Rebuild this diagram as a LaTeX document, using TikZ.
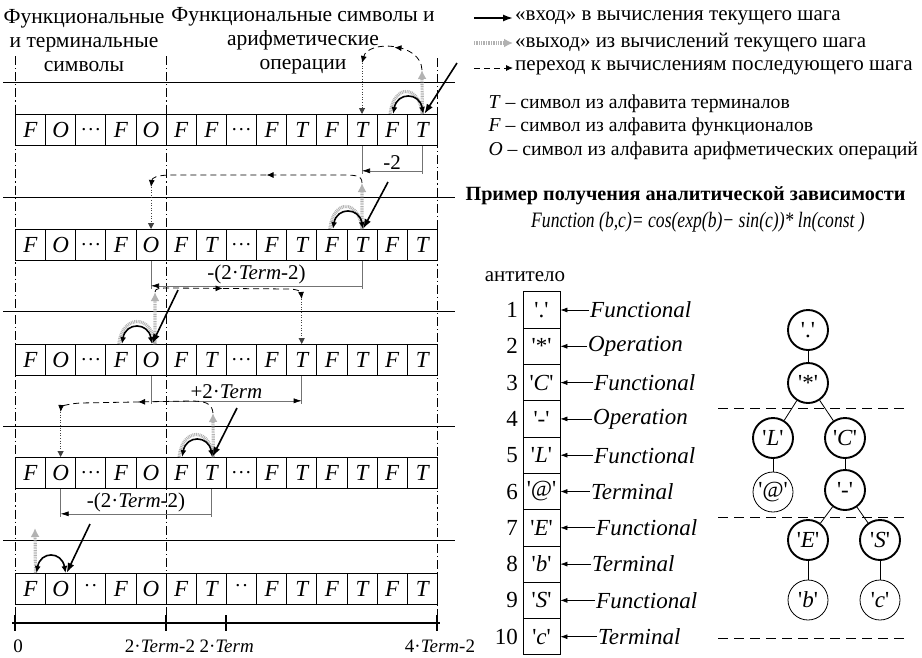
\documentclass[tikz,border=0pt]{standalone}
\usepackage{fontspec}
\usepackage{graphicx}
\setmainfont{Liberation Serif}
\usetikzlibrary{arrows.meta,decorations.markings,calc}
\newcommand\q{\textquotesingle}
\newcommand\tdots{{\upshape\fontsize{20}{20}\selectfont .\kern0.1em.\kern0.1em.}}
\newcommand\twodots{{\upshape\fontsize{20}{20}\selectfont\raisebox{7pt}{.\kern0.12em.}}}
\newcommand\cellrow[3]{\foreach \s [count=\i from 0] in {#3} {\node[cell] (r#1c\i) at ({15+30.14*\i},{-#2}) {\s};}}
\newcommand\dimjump[4]{%
  \draw[dimline] (r#1c#2.south) -- ++(0,-28);
  \draw[dimline] (r#1c#3.south) -- ++(0,-28);
  \draw[dimarr] ([yshift=-25pt]r#1c#2.south) -- ([yshift=-25pt]r#1c#3.south) node[midway, above=-2pt, text=black] {#4};}
\begin{document}
\begin{tikzpicture}[x=1pt,y=1pt, font=\fontsize{21}{22}\selectfont,
  cell/.style={draw, line width=0.8pt, minimum width=30.14pt, minimum height=31pt, anchor=north west, inner sep=0pt, font=\fontsize{23}{24}\selectfont\itshape},
  inarr/.style={line width=1.6pt, -{Latex[length=10pt,width=7pt]}},
  arcarr/.style={line width=1.6pt, {Latex[length=7pt,width=6pt]}-{Latex[length=7pt,width=6pt]}},
  exitline/.style={draw=black!30, line width=3.2pt, dash pattern=on 0.9pt off 0.8pt},
  exitarr/.style={exitline, -{Latex[length=9pt,width=9pt]}},
  transarr/.style={line width=0.8pt, dash pattern=on 6pt off 4pt, -{Latex[length=7pt,width=6pt]}},
  midarr/.style={postaction={decorate}, decoration={markings, mark=at position #1 with {\arrow{Latex[length=7pt,width=6pt]}}}},
  dotarr/.style={black!75, line width=1pt, dash pattern=on 1pt off 1.6pt, -{Triangle[length=6pt,width=6pt]}},
  dimline/.style={black!55, line width=0.6pt},
  dimarr/.style={dimline, -{Latex[length=8pt,width=5pt,color=black]}},
  colsep/.style={line width=0.9pt, dash pattern=on 9pt off 3pt on 1.2pt off 3pt},
  hline/.style={line width=0.6pt},
  abox/.style={draw, line width=0.8pt, minimum width=37pt, minimum height=36.3pt, inner sep=0pt, font=\fontsize{23}{24}\selectfont},
  tnode/.style={circle, draw, line width=1.9pt, minimum size=40pt, inner sep=0pt, font=\fontsize{23}{24}\selectfont},
  tleaf/.style={tnode, line width=0.8pt},
  tdash/.style={line width=0.7pt, dash pattern=on 10pt off 6pt},
  lbl/.style={anchor=west, inner sep=1pt, font=\fontsize{23}{24}\selectfont\itshape}]
\useasboundingbox (0,0) rectangle (922,-657);

% headings
\node[align=center, font=\fontsize{21.5}{24}\selectfont] (hl) at (84,-41) {Функциональные\\и терминальные\\символы};
\node[align=center, font=\fontsize{21.5}{24}\selectfont] (hm) at (303,-41) {Функциональные символы и\\арифметические\\операции};

% legend
\node[anchor=west, inner sep=2pt] (lg1) at (513,-18) {«вход» в вычисления текущего шага};
\node[anchor=west, inner sep=2pt] (lg2) at (513,-43) {«выход» из вычислений текущего шага};
\node[anchor=west, inner sep=2pt] (lg3) at (513,-68) {переход к вычислениям последующего шага};
\coordinate (lg1s) at (474,-18);
\coordinate (lg2s) at (474,-43);
\coordinate (lg3s) at (474,-68);
\draw[inarr] (lg1s) -- (lg1.west);
\draw[exitarr] (lg2s) -- (lg2.west);
\draw[transarr] (lg3s) -- (lg3.west);
\node[anchor=west, font=\fontsize{19.7}{22}\selectfont] (lt) at (485,-104) {\textit{T} – символ из алфавита терминалов};
\node[anchor=west, font=\fontsize{19.7}{22}\selectfont] (lf) at (485,-127) {\textit{F} – символ из алфавита функционалов};
\node[anchor=west, font=\fontsize{19.7}{22}\selectfont] (lo) at (485,-151) {\textit{O} – символ из алфавита арифметических операций};
\node[anchor=west, font=\fontsize{20.2}{22}\selectfont\bfseries] (ex) at (462,-196) {Пример получения аналитической зависимости};
\node (fn) at (698,-222) {\scalebox{0.8}[1]{\fontsize{22}{24}\selectfont\itshape Function (b,c)= cos(exp(b)− sin(c))* ln(const )}};

% horizontal lines
\foreach \y in {82,197,311,426,540} \draw[hline] (3,-\y) -- (455,-\y);
% column separators
\draw[colsep] (15,-56) -- (15,-623);
\draw[colsep] (166,-56) -- (166,-623);
\draw[colsep] (437,-58) -- (437,-623);

% cell rows
\cellrow{1}{114}{F,O,\tdots,F,O,F,F,\tdots,F,T,F,T,F,T}
\cellrow{2}{229}{F,O,\tdots,F,O,F,T,\tdots,F,T,F,T,F,T}
\cellrow{3}{344}{F,O,\tdots,F,O,F,T,\tdots,F,T,F,T,F,T}
\cellrow{4}{457}{F,O,\tdots,F,O,F,T,\tdots,F,T,F,T,F,T}
\cellrow{5}{573}{F,O,\twodots,F,O,F,T,\twodots,F,T,F,T,F,T}

% ---- row 1
\coordinate (in1) at (457,-63);
\coordinate (ex1) at (422,-70);
\coordinate (tr1) at ([yshift=51pt]r1c11.north);
\draw[exitline] ([xshift=-2pt]r1c12.north) .. controls +(3,30) and +(-3,30) .. (r1c13.north);
\draw[exitarr] (r1c13.north) -- (ex1);
\draw[arcarr] ([xshift=1pt]r1c13.north) .. controls +(-4,22) and +(4,22) .. ([xshift=1pt]r1c12.north);
\draw[inarr] (in1) -- ([xshift=2pt]r1c13.north);
\draw[transarr, midarr=0.5] (ex1) .. controls (421,-42) and (368,-40) .. (tr1);
\draw[dotarr] (tr1) -- (r1c11.north);
\dimjump{1}{13}{11}{-2}

% ---- row 2
\coordinate (in2) at (388,-182);
\coordinate (ex2) at (362,-183);
\coordinate (tr2) at ([yshift=42pt]r2c4.north);
\draw[exitline] ([xshift=-2pt]r2c10.north) .. controls +(3,30) and +(-3,30) .. (r2c11.north);
\draw[exitarr] (r2c11.north) -- (ex2);
\draw[arcarr] ([xshift=1pt]r2c11.north) .. controls +(-4,22) and +(4,22) .. ([xshift=1pt]r2c10.north);
\draw[inarr] (in2) -- ([xshift=1pt]r2c11.north);
\draw[transarr, midarr=0.45] (ex2) .. controls (362,-175) and (355,-175) .. (340,-175) -- (172,-175) .. controls (156,-175) and (152,-178) .. (tr2);
\draw[dotarr] (tr2) -- (r2c4.north);
\dimjump{2}{11}{4}{-(2·\textit{Term}-2)}

% ---- row 3
\coordinate (in3) at (178,-290);
\coordinate (ex3) at (155,-292);
\coordinate (tr3) at ([yshift=45pt]r3c9.north);
\draw[exitline] ([xshift=-2pt]r3c3.north) .. controls +(3,30) and +(-3,30) .. ([xshift=4pt]r3c4.north);
\draw[exitarr] ([xshift=4pt]r3c4.north) -- (ex3);
\draw[arcarr] ([xshift=1pt]r3c4.north) .. controls +(-4,22) and +(4,22) .. ([xshift=1pt]r3c3.north);
\draw[inarr] (in3) -- ([xshift=1pt]r3c4.north);
\draw[transarr, midarr=0.45] (ex3) .. controls (155,-288) and (160,-288) .. (172,-288) -- (288,-289) .. controls (298,-289) and (301,-292) .. (tr3);
\draw[dotarr] (tr3) -- (r3c9.north);
\dimjump{3}{4}{9}{+2·\textit{Term}}

% ---- row 4
\coordinate (in4) at (237,-408);
\coordinate (ex4) at (213,-413);
\coordinate (tr4) at ([yshift=45pt]r4c1.north);
\draw[exitline] ([xshift=-2pt]r4c5.north) .. controls +(3,30) and +(-3,30) .. ([xshift=2pt]r4c6.north);
\draw[exitarr] ([xshift=2pt]r4c6.north) -- (ex4);
\draw[arcarr] ([xshift=1pt]r4c6.north) .. controls +(-4,22) and +(4,22) .. ([xshift=1pt]r4c5.north);
\draw[inarr] (in4) -- ([xshift=1pt]r4c6.north);
\draw[transarr, midarr=0.5] (ex4) .. controls (212,-403) and (205,-401) .. (190,-401) -- (80,-403) .. controls (66,-404) and (61,-407) .. (tr4);
\draw[dotarr] (tr4) -- (r4c1.north);
\dimjump{4}{6}{1}{-(2·\textit{Term}-2)}

% ---- row 5
\coordinate (in5) at (90,-524);
\coordinate (ex5) at (35,-528);
\draw[exitarr] ([xshift=5pt]r5c0.north) -- (ex5);
\draw[arcarr] ([xshift=5pt]r5c1.north) .. controls +(-4,22) and +(4,22) .. ([xshift=6pt]r5c0.north);
\draw[inarr] (in5) -- ([xshift=6pt]r5c1.north);

% axis
\coordinate (a0) at (15,-623);
\coordinate (a1) at (166,-623);
\coordinate (a2) at (226,-623);
\coordinate (a3) at (437,-623);
\draw[line width=2.6pt] ([xshift=-3pt]a0) -- ([xshift=3pt]a3);
\foreach \a in {a0,a1,a2,a3} \draw[line width=2pt] ([yshift=8pt]\a) -- ([yshift=-8pt]\a);
\node[font=\fontsize{19}{20}\selectfont] (x0) at (18,-646) {0};
\node[font=\fontsize{19}{20}\selectfont] (x1) at (160,-646) {2·\textit{Term}-2};
\node[font=\fontsize{19}{20}\selectfont, anchor=west] (x2) at (196,-646) {2·\textit{Term}};
\node[font=\fontsize{19}{20}\selectfont] (x3) at (440,-646) {4·\textit{Term}-2};

% antibody
\node (ab) at (525,-277) {антитело};
\foreach \t [count=\k] in {{\q.\q},{\q*\q},{\q\textit{C}\q},{\q-\q},{\q\textit{L}\q},{\q\textit{@}\q},{\q\textit{E}\q},{\q\textit{b}\q},{\q\textit{S}\q},{\q\textit{c}\q}}
  \node[abox] (b\k) at (541.5,{-310-36.3*(\k-1)}) {\t};
\foreach \k in {1,2,3,4,5,6,7,8,9,10}
  \node[anchor=east, inner sep=1pt, font=\fontsize{23}{24}\selectfont] (n\k) at (519,{-310-36.3*(\k-1)}) {\k};
\foreach \k/\w/\x in {1/Functional/589,2/Operation/587,3/Functional/593,4/Operation/592,5/Functional/593,6/Terminal/590,7/Functional/595,8/Terminal/591,9/Functional/595,10/Terminal/597}{
  \node[lbl] (l\k) at (\x,{-310-36.3*(\k-1)}) {\w};
  \draw[line width=0.7pt, -{Latex[length=7pt,width=5pt]}] (l\k.west) -- (b\k.east);}

% tree
\draw[tdash] (718,-408) -- (910,-408);
\draw[tdash] (718,-517) -- (910,-517);
\draw[tdash] (718,-638) -- (910,-638);
\node[tnode] (t1) at (808,-330) {\q.\q};
\node[tnode] (t2) at (808,-383) {\q*\q};
\node[tnode] (t3) at (773,-438) {\q\textit{L}\q};
\node[tnode] (t4) at (845,-438) {\q\textit{C}\q};
\node[tleaf] (t5) at (773,-492) {\q\textit{@}\q};
\node[tnode] (t6) at (845,-490) {\q-\q};
\node[tnode] (t7) at (808,-540) {\q\textit{E}\q};
\node[tnode] (t8) at (880,-540) {\q\textit{S}\q};
\node[tleaf] (t9) at (808,-600) {\q\textit{b}\q};
\node[tleaf] (t10) at (880,-600) {\q\textit{c}\q};
\foreach \u/\v in {t1/t2,t2/t3,t2/t4,t3/t5,t4/t6,t6/t7,t6/t8,t7/t9,t8/t10}
  \draw[line width=0.8pt] (\u) -- (\v);
\end{tikzpicture}
\end{document}
